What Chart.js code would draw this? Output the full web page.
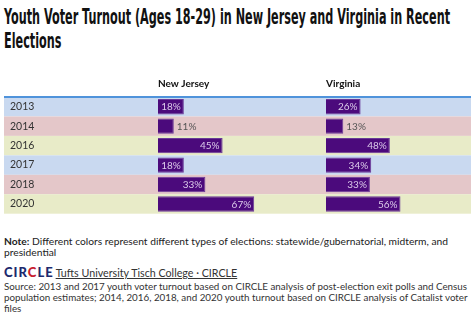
<!DOCTYPE html>
<html><head><meta charset="utf-8">
<script src="https://cdn.jsdelivr.net/npm/chart.js@4"></script>
<style>
html,body{margin:0;padding:0;background:#fff;width:475px;height:321px;overflow:hidden;}
body{position:relative;font-family:Lato,"Noto Sans",sans-serif;color:#222;}
#title{position:absolute;left:4px;top:5px;font-family:"Liberation Sans Narrow","DejaVu Sans Condensed",sans-serif;font-weight:bold;font-size:21px;line-height:24px;color:#111;white-space:nowrap;transform-origin:0 0;}
#wrap{position:absolute;left:0;top:70px;width:475px;height:150px;}
#note{position:absolute;left:4px;top:236px;font-size:10.25px;line-height:11px;color:#222;width:466px;}
#logo{position:absolute;left:4px;top:266px;font-size:10.7px;line-height:12px;white-space:nowrap;}
#logo .brand{font-weight:900;font-size:13px;letter-spacing:1px;color:#1d2a6e;margin-right:2px;}
#logo .brand .c{color:#c8202f;}
#logo a{color:#333;text-decoration:underline;}
#source{position:absolute;left:4px;top:281px;font-size:9.8px;line-height:11px;color:#333;width:468px;}
</style></head>
<body>
<div id="title"><span id="t1">Youth Voter Turnout (Ages 18-29) in New Jersey and Virginia in Recent</span><br><span id="t2">Elections</span></div>
<div id="wrap"><canvas id="c"></canvas></div>
<div id="note"><b>Note:</b> Different colors represent different types of elections: statewide/gubernatorial, midterm, and presidential</div>
<div id="logo"><span class="brand">CIR<span class="c">C</span>LE</span><a>Tufts University Tisch College · CIRCLE</a></div>
<div id="source">Source: 2013 and 2017 youth voter turnout based on CIRCLE analysis of post-election exit polls and Census population estimates; 2014, 2016, 2018, and 2020 youth turnout based on CIRCLE analysis of Catalist voter files</div>
<script>
// ---- data ----
const years = ['2013', '2014', '2016', '2017', '2018', '2020'];
const newJersey = [18, 11, 45, 18, 33, 67];
const virginia = [26, 13, 48, 34, 33, 56];
const electionType = ['statewide', 'midterm', 'presidential', 'statewide', 'midterm', 'presidential'];
const columnHeaders = ['New Jersey', 'Virginia'];

// ---- styles ----
const typeColors = {statewide: '#c9d9f0', midterm: '#e4c7c9', presidential: '#e8ebc8'};
const barColor = '#4b0a7c';

// fit title first line width
const t = document.getElementById('title');
const w1 = document.getElementById('t1').getBoundingClientRect().width;
t.style.transform = 'scaleX(' + (446 / w1) + ')';

const rowBands = {
  id: 'rowBands',
  beforeDraw(chart) {
    const {ctx, scales: {y}, chartArea} = chart;
    const h = y.height / years.length;
    ctx.save();
    years.forEach((yr, i) => {
      const yc = y.getPixelForValue(i);
      ctx.fillStyle = typeColors[electionType[i]];
      ctx.fillRect(4, yc - h / 2, 467, h);
    });
    ctx.fillStyle = '#4f93db';
    ctx.fillRect(4, chartArea.top - 1, 467, 2);
    ctx.restore();
  }
};

const barLabels = {
  id: 'barLabels',
  afterDatasetsDraw(chart) {
    const {ctx} = chart;
    ctx.save();
    ctx.font = '10px Lato, "Noto Sans", sans-serif';
    ctx.textBaseline = 'middle';
    chart.data.datasets.forEach((ds, di) => {
      const meta = chart.getDatasetMeta(di);
      meta.data.forEach((bar, i) => {
        const v = ds.data[i];
        const txt = v + '%';
        if (v < 15) {
          ctx.textAlign = 'left';
          ctx.fillStyle = '#555';
          ctx.fillText(txt, bar.x + 3, bar.y + 0.5);
        } else {
          ctx.textAlign = 'right';
          ctx.fillStyle = '#dccbea';
          ctx.fillText(txt, bar.x - 3, bar.y + 0.5);
        }
      });
    });
    ctx.restore();
  }
};

const headerTitle = (text) => ({
  display: true, text, align: 'start', color: '#111',
  font: {family: 'Lato, "Noto Sans", sans-serif', size: 10, weight: 'bold', lineHeight: 1.2},
  padding: {top: 8, bottom: 7}
});

new Chart(document.getElementById('c'), {
  type: 'bar',
  data: {
    labels: years,
    datasets: [
      {label: columnHeaders[0], data: newJersey, xAxisID: 'xNJ', backgroundColor: barColor, borderColor: '#6b3a98', borderWidth: 1},
      {label: columnHeaders[1], data: virginia, xAxisID: 'xVA', backgroundColor: barColor, borderColor: '#6b3a98', borderWidth: 1}
    ]
  },
  options: {
    indexAxis: 'y',
    responsive: true,
    maintainAspectRatio: false,
    animation: false,
    layout: {padding: {left: 10, right: 4, top: 0, bottom: 2}},
    datasets: {bar: {grouped: false, categoryPercentage: 1, barPercentage: 0.79}},
    plugins: {legend: {display: false}, tooltip: {enabled: false}},
    scales: {
      y: {
        position: 'left',
        grid: {display: false, drawTicks: false},
        border: {display: false},
        ticks: {crossAlign: 'far', color: '#333', padding: 0, font: {family: 'Lato, "Noto Sans", sans-serif', size: 10.5}},
        afterFit(s) { s.width = 148; }
      },
      xVA: {
        axis: 'x', position: 'top', stack: 'cols', stackWeight: 145,
        min: 0, max: 109,
        grid: {display: false, drawTicks: false}, border: {display: false},
        ticks: {display: false, padding: 0},
        title: headerTitle(columnHeaders[1])
      },
      xNJ: {
        axis: 'x', position: 'top', stack: 'cols', stackWeight: 168,
        min: 0, max: 117,
        grid: {display: false, drawTicks: false}, border: {display: false},
        ticks: {display: false, padding: 0},
        title: headerTitle(columnHeaders[0])
      }
    }
  },
  plugins: [rowBands, barLabels]
});
</script>
</body></html>
